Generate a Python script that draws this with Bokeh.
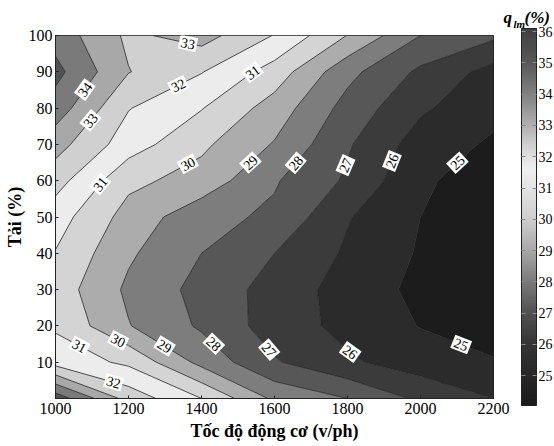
import numpy as np
import contourpy
from bokeh.plotting import figure
from bokeh.models import FixedTicker, ColumnDataSource, LinearColorMapper, ColorBar
from bokeh.core.properties import value
from bokeh.embed import file_html
from bokeh.resources import INLINE

# ---- data (engine speed v/ph, load %, q_lm %) ----
speeds = [1000, 1200, 1400, 1600, 1800, 2000, 2200]
loads = [0, 10, 20, 30, 40, 50, 60, 70, 80, 90, 100]

q_load_0 = [35.6, 32.6, 31.0, 28.8, 28.0, 26.8, 26.0]
q_load_10 = [31.6, 30.8, 28.7, 27.1, 26.15, 25.5, 25.05]
q_load_20 = [30.85, 29.05, 27.85, 26.53, 25.7, 24.96, 24.7]
q_load_30 = [30.55, 28.81, 27.67, 26.6, 25.58, 24.75, 24.45]
q_load_40 = [30.95, 29.15, 28.0, 27.0, 25.85, 24.9, 24.4]
q_load_50 = [31.45, 29.61, 28.34, 27.81, 26.07, 25.0, 24.5]
q_load_60 = [32.4, 30.25, 29.6, 28.1, 26.85, 25.15, 24.52]
q_load_70 = [33.4, 31.47, 30.2, 28.92, 27.12, 25.52, 24.85]
q_load_80 = [34.55, 32.05, 31.05, 29.56, 27.63, 26.15, 25.29]
q_load_90 = [35.3, 33.04, 32.05, 30.57, 28.3, 26.8, 25.63]
q_load_100 = [34.6, 32.8, 33.4, 31.95, 29.97, 28.0, 27.2]

levels = [24, 25, 26, 27, 28, 29, 30, 31, 32, 33, 34, 35, 36]
cbar_ticks = [25, 26, 27, 28, 29, 30, 31, 32, 33, 34, 35, 36]
cbar_low, cbar_high = 24.05, 36.1
x_ticks = [1000, 1200, 1400, 1600, 1800, 2000, 2200]
y_ticks = [10, 20, 30, 40, 50, 60, 70, 80, 90, 100]

# contour labels: level and approximate place (speed, load)
label_levels = [33, 34, 33, 32, 31, 31, 30, 29, 28, 27, 26, 25,
                31, 30, 29, 28, 27, 26, 25, 32]
label_speed = [1361, 1082, 1091, 1338, 1539, 1123, 1361, 1525, 1657, 1778, 1908, 2101,
               1063, 1159, 1296, 1424, 1592, 1816, 2108, 1159]
label_load = [97, 85, 77, 86, 90, 59, 65, 66, 65, 65, 66, 65,
              14, 13.5, 14, 14, 14, 14, 14, 4.4]

# ---- styles ----
band_colors = ["#1c1c1c", "#2b2b2b", "#3b3b3b", "#575757", "#7d7d7d", "#acacac",
               "#d4d4d4", "#ececec", "#d0d0d0", "#a8a8a8", "#7a7a7a", "#525252"]
cmap_v = [24.0, 25, 26, 27, 28, 29, 30, 31, 31.6, 32, 33, 34, 35, 36.2]
cmap_g = [0x1a, 0x28, 0x36, 0x52, 0x7a, 0xa8, 0xce, 0xe4, 0xf0, 0xe2, 0xb2, 0x82, 0x5a, 0x3e]
FONT = "Liberation Serif"
FW, FH = 438, 363

z = np.array([q_load_0, q_load_10, q_load_20, q_load_30, q_load_40, q_load_50,
              q_load_60, q_load_70, q_load_80, q_load_90, q_load_100], dtype=float)

p = figure(frame_width=FW, frame_height=FH, x_range=(1000, 2200), y_range=(0, 100),
           output_backend="svg", toolbar_location=None,
           min_border_left=55, min_border_right=61, min_border_top=35, min_border_bottom=48)
p.grid.visible = False
p.outline_line_color = "#222222"
p.background_fill_color = "white"

p.contour(speeds, loads, z, levels, fill_color=band_colors,
          line_color="#222222", line_width=0.8)

# ---- contour labels positioned on computed contour lines ----
gen = contourpy.contour_generator(np.array(speeds, float), np.array(loads, float), z)
sx = FW / 1200.0
sy = FH / 100.0
lx, ly, lt, la = [], [], [], []
for lev, s0, l0 in zip(label_levels, label_speed, label_load):
    lines = gen.lines(lev)
    best = None
    P = np.array([s0 * sx, l0 * sy])
    for ln in lines:
        pts = np.column_stack([ln[:, 0] * sx, ln[:, 1] * sy])
        for i in range(len(pts) - 1):
            a, b = pts[i], pts[i + 1]
            d = b - a
            L2 = d @ d
            if L2 == 0:
                continue
            t = np.clip((P - a) @ d / L2, 0, 1)
            q = a + t * d
            dist = np.hypot(*(P - q))
            if best is None or dist < best[0]:
                best = (dist, q, d)
    if best is None:
        continue
    _, q, d = best
    ang = np.arctan2(d[1], d[0])
    if ang > np.pi / 2:
        ang -= np.pi
    if ang < -np.pi / 2:
        ang += np.pi
    lx.append(q[0] / sx)
    ly.append(q[1] / sy)
    lt.append(str(lev))
    la.append(ang)

src = ColumnDataSource(dict(x=lx, y=ly, text=lt, angle=la))
p.text(x="x", y="y", text="text", angle="angle", source=src,
       text_font=value(FONT), text_font_size="14px", text_color="black",
       text_align="center", text_baseline="middle",
       background_fill_color="white", padding=2)

# ---- axes ----
for ax in (p.xaxis[0], p.yaxis[0]):
    ax.major_label_text_font = FONT
    ax.major_label_text_font_size = "16px"
    ax.major_label_text_color = "black"
    ax.axis_label_text_font = FONT
    ax.axis_label_text_font_size = "18px"
    ax.axis_label_text_font_style = "bold"
    ax.axis_label_text_color = "black"
    ax.major_tick_in = 3
    ax.major_tick_out = 0
    ax.minor_tick_line_color = None
    ax.axis_line_color = "#222222"
    ax.major_tick_line_color = "#222222"
p.xaxis.ticker = FixedTicker(ticks=x_ticks)
p.yaxis.ticker = FixedTicker(ticks=y_ticks)
p.xaxis.axis_label = "Tốc độ động cơ (v/ph)"
p.yaxis.axis_label = "Tải (%)"
p.xaxis.major_label_standoff = 4
p.xaxis.axis_label_standoff = 4
p.yaxis.major_label_standoff = 3
p.yaxis.axis_label_standoff = 1

# ---- colour bar ----
vals = np.linspace(cbar_low, cbar_high, 256)
gv = np.interp(vals, cmap_v, cmap_g)
palette = ["#%02x%02x%02x" % (int(g), int(g), int(g)) for g in gv]
mapper = LinearColorMapper(palette=palette, low=cbar_low, high=cbar_high)
cb = ColorBar(color_mapper=mapper, ticker=FixedTicker(ticks=cbar_ticks),
              width=15, height=377, margin=0, padding=0, location=(466, -7),
              major_label_text_font=FONT, major_label_text_font_size="14px",
              major_label_text_color="black",
              major_tick_line_color="#8a8a8a", major_tick_line_dash="4 7",
              major_tick_in=15, major_tick_out=0,
              bar_line_color="#222222", label_standoff=2,
              background_fill_alpha=0, border_line_color=None)
p.add_layout(cb, "center")

# colour-bar title q_lm(%) : three text pieces carried by empty colour bars
# (location = offset of the piece's lower-left corner from the frame's lower-left corner)
blank = LinearColorMapper(palette=["#ffffff"], low=0, high=1)
title_parts = [("q", "17px", 448, 371), ("lm", "11px", 458, 368), ("(%)", "17px", 469, 371)]
for txt, fs, ox, oy in title_parts:
    t = ColorBar(color_mapper=blank, ticker=FixedTicker(ticks=[]), width=1, height=1,
                 orientation="horizontal",
                 scale_alpha=0, bar_line_color=None, border_line_color=None,
                 background_fill_alpha=0, margin=0, padding=0, location=(ox, oy),
                 major_tick_line_color=None, major_label_text_alpha=0,
                 title=txt, title_standoff=0, title_text_font=FONT,
                 title_text_font_size=fs, title_text_font_style="bold italic",
                 title_text_color="black")
    p.add_layout(t, "center")

open("out.html", "w").write(file_html(p, INLINE))
